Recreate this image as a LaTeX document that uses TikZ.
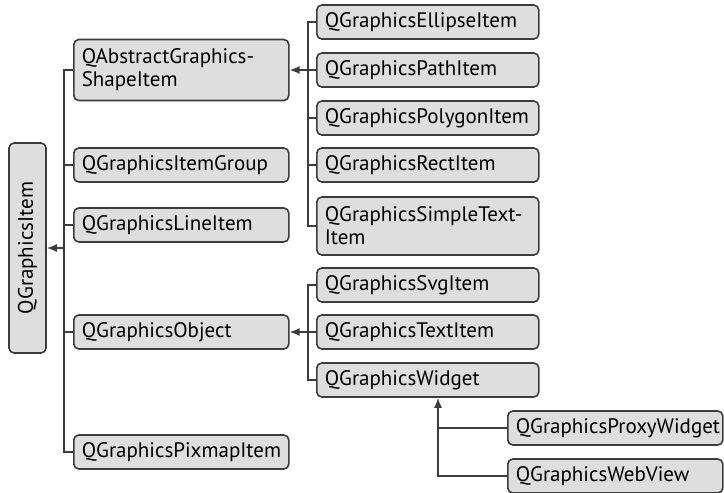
\documentclass[tikz,border=0pt]{standalone}
\usepackage{fontspec}
\setmainfont{PT Sans}
\usetikzlibrary{arrows.meta}

\definecolor{boxgray}{RGB}{222,222,222}
\definecolor{linegray}{RGB}{60,60,60}

\tikzset{
  cls/.style={draw=linegray, fill=boxgray, rounded corners=5pt, line width=1.6pt,
    anchor=west, align=left, inner xsep=8pt, inner ysep=0pt, minimum height=34pt,
    font=\fontsize{21}{23}\selectfont},
  clsA/.style={cls, text width=199pt},
  clsB/.style={cls, text width=206pt},
  link/.style={draw=linegray, line width=1.6pt},
  inh/.style={link, -{Latex[length=10pt,width=8pt]}}
}

\begin{document}
\begin{tikzpicture}[x=1pt,y=-1pt]
\useasboundingbox (0,0) rectangle (724,493);

% Root
\node [cls, anchor=center, rotate=90, minimum width=210pt, minimum height=37pt, text width=190pt, align=center] (item) at (27.5,248) {QGraphicsItem};

% first level
\node [clsA, minimum height=61pt] (abstractShape) at (73,70) {QAbstractGraphics-\\ShapeItem};
\node [clsA] (itemGroup) at (73,165) {QGraphicsItemGroup};
\node [clsA] (lineItem) at (73,225) {QGraphicsLineItem};
\node [clsA] (object) at (73,332) {QGraphicsObject};
\node [clsA] (pixmap) at (73,452) {QGraphicsPixmapItem};

% shape items
\node [clsB] (ellipse) at (316,22) {QGraphicsEllipseItem};
\node [clsB] (path) at (316,70) {QGraphicsPathItem};
\node [clsB] (polygon) at (316,118) {QGraphicsPolygonItem};
\node [clsB] (rect) at (316,165) {QGraphicsRectItem};
\node [clsB, minimum height=58pt] (simpleText) at (316,226) {QGraphicsSimpleText-\\Item};

% object items
\node [clsB] (svg) at (316,285) {QGraphicsSvgItem};
\node [clsB] (textItem) at (316,332) {QGraphicsTextItem};
\node [clsB] (widget) at (316,380) {QGraphicsWidget};

% widget items
\node [clsA] (proxy) at (507,428) {QGraphicsProxyWidget};
\node [clsA] (webView) at (507,476) {QGraphicsWebView};

% Straight Lines
\coordinate (rootJoin) at (64,248);
\draw [link] (abstractShape.west) -| (rootJoin) |- (pixmap.west);
\draw [link] (itemGroup.west) -- (itemGroup.west -| rootJoin);
\draw [link] (lineItem.west) -- (lineItem.west -| rootJoin);
\draw [link] (object.west) -- (object.west -| rootJoin);
\draw [inh] (rootJoin) -- (item.south);

\coordinate (shapeJoin) at (308,70);
\draw [link] (ellipse.west) -| (shapeJoin) |- (simpleText.west);
\draw [link] (polygon.west) -- (polygon.west -| shapeJoin);
\draw [link] (rect.west) -- (rect.west -| shapeJoin);
\draw [inh] (path.west) -- (abstractShape.east);

\coordinate (objectJoin) at (308,332);
\draw [link] (svg.west) -| (objectJoin) |- (widget.west);
\draw [inh] (textItem.west) -- (object.east);

\coordinate (widgetJoin) at (438,428);
\draw [link] (webView.west) -| (widgetJoin);
\draw [link] (proxy.west) -- (widgetJoin);
\draw [inh] (widgetJoin) -- (widgetJoin |- widget.south);

\end{tikzpicture}
\end{document}
